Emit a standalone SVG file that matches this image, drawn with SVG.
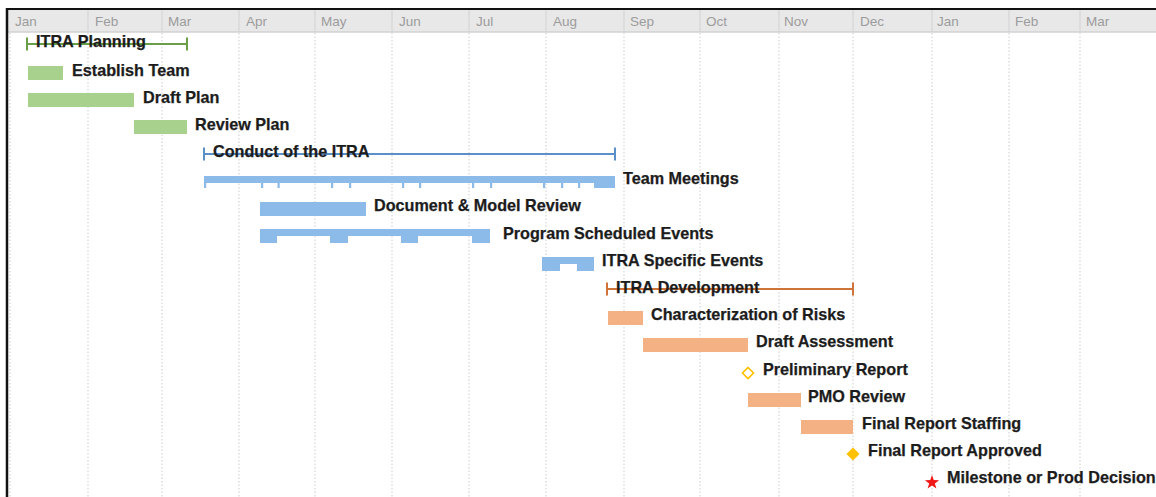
<svg xmlns="http://www.w3.org/2000/svg" width="1156" height="497" viewBox="0 0 1156 497">
  <defs>
    <style>
      .month { font-family: "Liberation Sans", Arial, sans-serif; font-size: 13.5px; fill: #9c9c9c; }
      .label { font-family: "Liberation Sans", Arial, sans-serif; font-size: 16.2px; font-weight: bold; fill: #1c1c1c; stroke: #1c1c1c; stroke-width: 0.25; }
      .grid { stroke: #cdcdcd; stroke-width: 1; stroke-dasharray: 1.5 2; }
      .hsep { stroke: #d2d2d2; stroke-width: 1; }
      .green-bar { fill: #a9d18e; }
      .blue-bar { fill: #8cbbea; }
      .orange-bar { fill: #f4b183; }
      .sum-green { stroke: #6a9e48; stroke-width: 2; fill: none; }
      .sum-blue { stroke: #5b8fc7; stroke-width: 2; fill: none; }
      .sum-orange { stroke: #d0733a; stroke-width: 2; fill: none; }
    </style>
  </defs>

  <rect x="0" y="0" width="1156" height="497" fill="#ffffff"/>

  <!-- timeline header -->
  <g id="header">
    <rect x="8" y="10" width="1148" height="22" fill="#e8e8e8"/>
    <line x1="8" y1="32" x2="1156" y2="32" stroke="#d2d2d2" stroke-width="1.5"/>
    <g class="hsep">
      <line x1="88" y1="10" x2="88" y2="32"/>
      <line x1="162" y1="10" x2="162" y2="32"/>
      <line x1="239" y1="10" x2="239" y2="32"/>
      <line x1="315" y1="10" x2="315" y2="32"/>
      <line x1="392" y1="10" x2="392" y2="32"/>
      <line x1="469" y1="10" x2="469" y2="32"/>
      <line x1="546" y1="10" x2="546" y2="32"/>
      <line x1="624" y1="10" x2="624" y2="32"/>
      <line x1="700" y1="10" x2="700" y2="32"/>
      <line x1="779" y1="10" x2="779" y2="32"/>
      <line x1="853" y1="10" x2="853" y2="32"/>
      <line x1="932" y1="10" x2="932" y2="32"/>
      <line x1="1009" y1="10" x2="1009" y2="32"/>
      <line x1="1080" y1="10" x2="1080" y2="32"/>
    </g>
    <text class="month" x="15" y="26">Jan</text>
    <text class="month" x="95" y="26">Feb</text>
    <text class="month" x="168" y="26">Mar</text>
    <text class="month" x="246" y="26">Apr</text>
    <text class="month" x="321" y="26">May</text>
    <text class="month" x="399" y="26">Jun</text>
    <text class="month" x="476" y="26">Jul</text>
    <text class="month" x="553" y="26">Aug</text>
    <text class="month" x="630" y="26">Sep</text>
    <text class="month" x="706" y="26">Oct</text>
    <text class="month" x="784" y="26">Nov</text>
    <text class="month" x="860" y="26">Dec</text>
    <text class="month" x="937" y="26">Jan</text>
    <text class="month" x="1015" y="26">Feb</text>
    <text class="month" x="1086" y="26">Mar</text>
  </g>

  <!-- month gridlines -->
  <g id="gridlines" class="grid">
    <line x1="10" y1="33" x2="10" y2="497"/>
    <line x1="88" y1="33" x2="88" y2="497"/>
    <line x1="162" y1="33" x2="162" y2="497"/>
    <line x1="239" y1="33" x2="239" y2="497"/>
    <line x1="315" y1="33" x2="315" y2="497"/>
    <line x1="392" y1="33" x2="392" y2="497"/>
    <line x1="469" y1="33" x2="469" y2="497"/>
    <line x1="546" y1="33" x2="546" y2="497"/>
    <line x1="624" y1="33" x2="624" y2="497"/>
    <line x1="700" y1="33" x2="700" y2="497"/>
    <line x1="779" y1="33" x2="779" y2="497"/>
    <line x1="853" y1="33" x2="853" y2="497"/>
    <line x1="932" y1="33" x2="932" y2="497"/>
    <line x1="1009" y1="33" x2="1009" y2="497"/>
    <line x1="1080" y1="33" x2="1080" y2="497"/>
  </g>

  <!-- frame edges -->
  <line x1="6" y1="9" x2="1156" y2="9" stroke="#111" stroke-width="2"/>
  <line x1="7" y1="8" x2="7" y2="497" stroke="#111" stroke-width="2.5"/>

  <!-- planning phase -->
  <g id="itra-planning">
    <path class="sum-green" d="M27 44 H187 M27 37.5 V50.5 M187 37.5 V50.5"/>
    <text class="label" x="36" y="47">ITRA Planning</text>
  </g>
  <g id="establish-team">
    <rect class="green-bar" x="28" y="66" width="35" height="14"/>
    <text class="label" x="72" y="75.5">Establish Team</text>
  </g>
  <g id="draft-plan">
    <rect class="green-bar" x="28" y="93" width="106" height="14"/>
    <text class="label" x="143" y="102.7">Draft Plan</text>
  </g>
  <g id="review-plan">
    <rect class="green-bar" x="134" y="120" width="53" height="14"/>
    <text class="label" x="195" y="130">Review Plan</text>
  </g>

  <!-- conduct phase -->
  <g id="conduct-itra">
    <path class="sum-blue" d="M204 154 H615 M204 147.5 V160.5 M615 147.5 V160.5"/>
    <text class="label" x="213" y="156.5">Conduct of the ITRA</text>
  </g>
  <g id="team-meetings" class="blue-bar">
    <rect x="204" y="176" width="411" height="7"/>
    <rect x="204" y="176" width="2.2" height="12"/>
    <rect x="261" y="176" width="2.2" height="12"/>
    <rect x="277.5" y="176" width="2.2" height="12"/>
    <rect x="331" y="176" width="2.2" height="12"/>
    <rect x="349" y="176" width="2.2" height="12"/>
    <rect x="402" y="176" width="2.2" height="12"/>
    <rect x="419" y="176" width="2.2" height="12"/>
    <rect x="472" y="176" width="2.2" height="12"/>
    <rect x="490" y="176" width="2.2" height="12"/>
    <rect x="543" y="176" width="2.2" height="12"/>
    <rect x="561" y="176" width="2.2" height="12"/>
    <rect x="578" y="176" width="2.2" height="12"/>
    <rect x="594" y="176" width="21" height="12"/>
    <text class="label" x="623" y="184">Team Meetings</text>
  </g>
  <g id="document-model-review">
    <rect class="blue-bar" x="260" y="202" width="106" height="14"/>
    <text class="label" x="374" y="211">Document &amp; Model Review</text>
  </g>
  <g id="program-scheduled-events" class="blue-bar">
    <rect x="260" y="229" width="230" height="7"/>
    <rect x="260" y="229" width="17" height="14"/>
    <rect x="330" y="229" width="18" height="14"/>
    <rect x="401" y="229" width="17" height="14"/>
    <rect x="472" y="229" width="18" height="14"/>
    <text class="label" x="503" y="239">Program Scheduled Events</text>
  </g>
  <g id="itra-specific-events" class="blue-bar">
    <rect x="542" y="257" width="52" height="7"/>
    <rect x="542" y="257" width="18" height="14"/>
    <rect x="577" y="257" width="17" height="14"/>
    <text class="label" x="602" y="266">ITRA Specific Events</text>
  </g>

  <!-- development phase -->
  <g id="itra-development">
    <path class="sum-orange" d="M607 289 H853 M607 282.5 V295.5 M853 282.5 V295.5"/>
    <text class="label" x="616" y="293">ITRA Development</text>
  </g>
  <g id="characterization-of-risks">
    <rect class="orange-bar" x="608" y="311" width="35" height="14"/>
    <text class="label" x="651" y="320">Characterization of Risks</text>
  </g>
  <g id="draft-assessment">
    <rect class="orange-bar" x="643" y="338" width="105" height="14"/>
    <text class="label" x="756" y="347">Draft Assessment</text>
  </g>
  <g id="preliminary-report">
    <path d="M748 367.5 L753.5 373 L748 378.5 L742.5 373 Z" fill="#ffffff" stroke="#ffc000" stroke-width="1.6"/>
    <text class="label" x="763" y="375">Preliminary Report</text>
  </g>
  <g id="pmo-review">
    <rect class="orange-bar" x="748" y="393" width="53" height="14"/>
    <text class="label" x="808" y="402">PMO Review</text>
  </g>
  <g id="final-report-staffing">
    <rect class="orange-bar" x="801" y="420" width="52" height="14"/>
    <text class="label" x="862" y="429">Final Report Staffing</text>
  </g>
  <g id="final-report-approved">
    <path d="M853 447.5 L859.5 454 L853 460.5 L846.5 454 Z" fill="#ffc000"/>
    <text class="label" x="868" y="456">Final Report Approved</text>
  </g>
  <g id="milestone-prod-decision">
    <polygon transform="translate(932 482.5)" fill="#f01818"
      points="0,-7.5 1.76,-2.43 7.13,-2.32 2.85,0.93 4.41,6.07 0,3 -4.41,6.07 -2.85,0.93 -7.13,-2.32 -1.76,-2.43"/>
    <text class="label" x="947" y="483">Milestone or Prod Decision</text>
  </g>
</svg>
